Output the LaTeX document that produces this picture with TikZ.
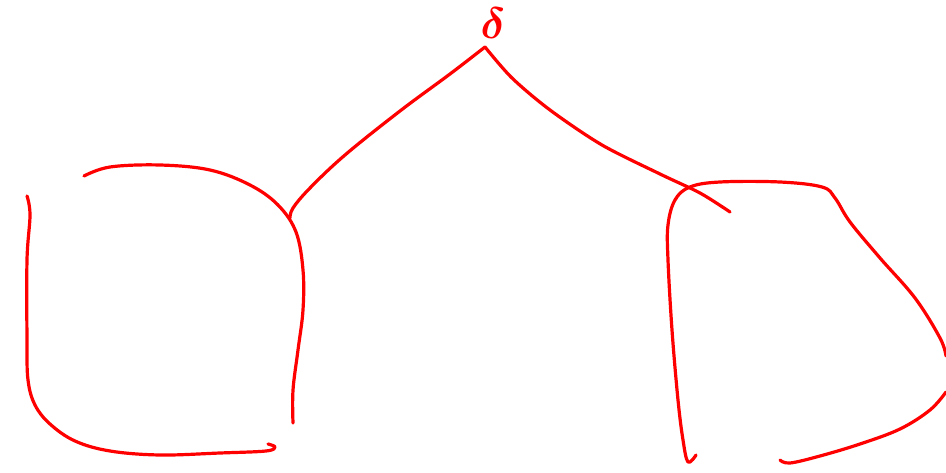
\documentclass[tikz,border=0pt]{standalone}
\usepackage{tikz}
\usepackage{bm}
\usetikzlibrary{positioning, calc}

\tikzset{
	pen/.style={red, line width=3.2pt, line cap=round, line join=round},
}

\begin{document}
\begin{tikzpicture}[x=1pt, y=-1pt]
	\useasboundingbox (0,0) rectangle (946,473);
	% root symbol
	\node[red, inner sep=0pt, scale=4.4] (root) at (493,23) {$\bm{\delta}$};
	\coordinate (top) at (485,47);
	\coordinate (lknot) at (290,218);
	\coordinate (rknot) at (730,212);
	% branches
	\draw[pen] (top) plot[smooth, tension=0.6] coordinates {(485,47) (450,74) (400,111) (345,155) (310,188) (293,208) (290,218)};
	\draw[pen] (top) plot[smooth, tension=0.5] coordinates {(485,47) (512,78) (550,110) (602,145) (660,174) (700,193) (730,212)};
	% left box
	\draw[pen] plot[smooth, tension=0.6] coordinates {(27,196) (30,215) (27,260) (27,340) (28,380) (35,405) (50,424) (75,441) (110,451) (160,455) (220,453) (266,451) (275,447) (268,444)};
	\draw[pen] plot[smooth, tension=0.6] coordinates {(84,176) (110,167) (160,165) (210,170) (250,185) (278,205) (296,232) (303,270) (303,310) (298,350) (293,390) (293,423)};
	% right box
	\draw[pen] plot[smooth, tension=0.6] coordinates {(696,455) (688,462) (683,440) (678,400) (672,330) (668,260) (668,225) (675,200) (690,187) (720,182) (780,182) (822,187) (835,198) (850,222) (880,258) (915,298) (940,338) (946,356)};
	\draw[pen] plot[smooth, tension=0.6] coordinates {(946,392) (930,410) (900,429) (860,444) (820,456) (790,463) (780,460)};
\end{tikzpicture}
\end{document}
